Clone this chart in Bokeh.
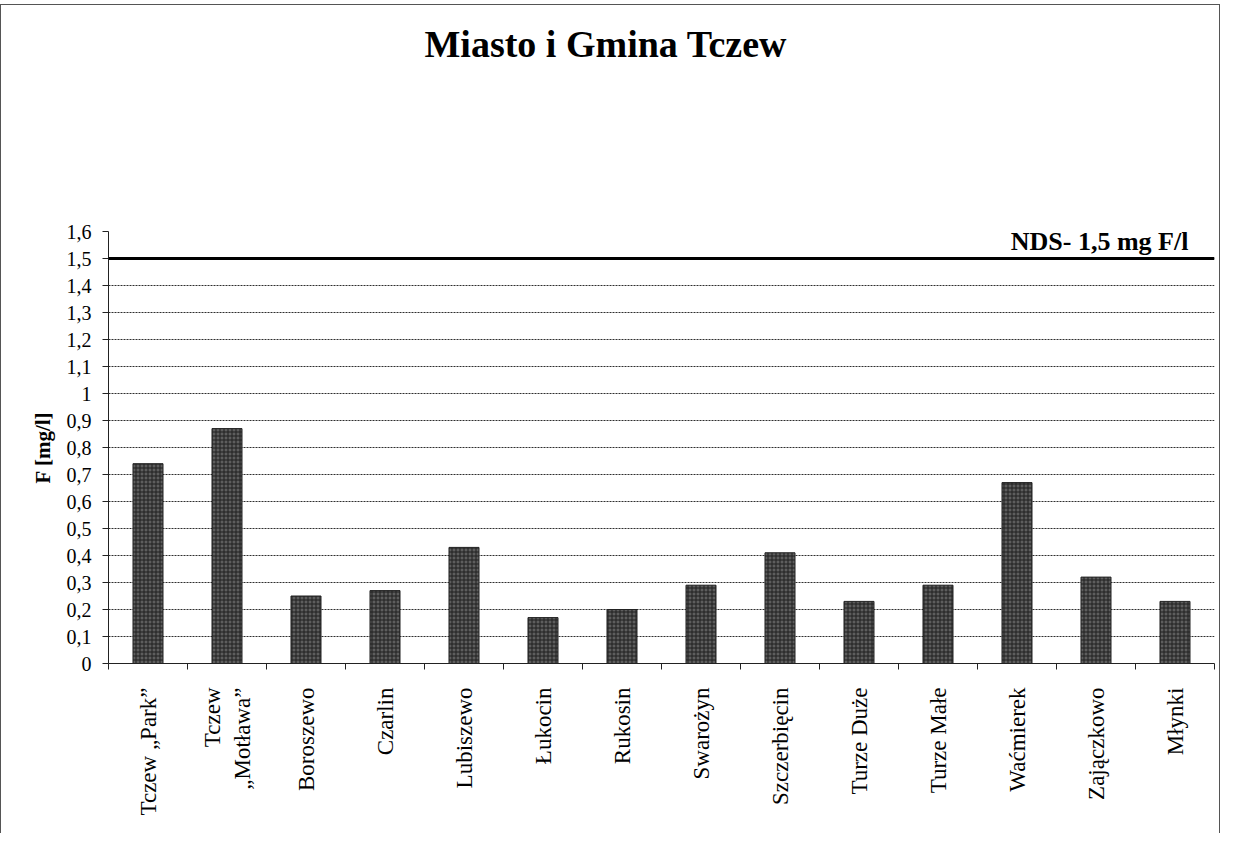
import math
from bokeh.plotting import figure
from bokeh.models import FixedTicker, Span, Label, Range1d, Title
from bokeh.embed import file_html
from bokeh.resources import INLINE

# ---- data ----
categories = ["Tczew \u201ePark\u201d", "Tczew\n\u201eMotława\u201d", "Boroszewo", "Czarlin",
              "Lubiszewo", "Łukocin", "Rukosin", "Swarożyn", "Szczerbięcin",
              "Turze Duże", "Turze Małe", "Waćmierek", "Zajączkowo", "Młynki"]
values = [0.74, 0.87, 0.25, 0.27, 0.43, 0.17, 0.20, 0.29, 0.41, 0.23, 0.29, 0.67, 0.32, 0.23]
y_ticks = [0, 0.1, 0.2, 0.3, 0.4, 0.5, 0.6, 0.7, 0.8, 0.9, 1.0, 1.1, 1.2, 1.3, 1.4, 1.5, 1.6]
y_tick_labels = ["0", "0,1", "0,2", "0,3", "0,4", "0,5", "0,6", "0,7", "0,8", "0,9", "1",
                 "1,1", "1,2", "1,3", "1,4", "1,5", "1,6"]
nds_value = 1.5
nds_text = "NDS- 1,5 mg F/l"
title_text = "Miasto i Gmina Tczew"
y_label = "F [mg/l]"

FONT = "Liberation Serif"
n = len(categories)
centers = [i + 0.5 for i in range(n)]
bounds = [i for i in range(n + 1)]
y_max = y_ticks[-1]

p = figure(width=1220, height=829, output_backend="svg", toolbar_location=None,
           x_range=Range1d(0, n), y_range=Range1d(0, y_max),
           min_border_left=107, min_border_right=7, min_border_top=226, min_border_bottom=171)
p.styles = {"margin-top": "4px", "border-left": "1px solid #555", "border-top": "1px solid #555",
            "border-right": "1px solid #555"}
p.outline_line_color = None
p.background_fill_color = "white"
p.border_fill_color = "white"

# spacer between the title and the plot area
p.add_layout(Title(text=" ", text_font_size="10px", standoff=142), "above")

# title
p.title.text = title_text
p.title.text_font = FONT
p.title.text_font_size = "38px"
p.title.text_font_style = "bold"
p.title.text_color = "black"
p.title.align = "left"
p.title.offset = 316
p.title.standoff = 24

# bars
p.vbar(x=centers, top=values, bottom=0, width=0.38, fill_color="#5e5e5e", line_color="#222222",
       line_width=1, hatch_pattern="cross", hatch_color="#1e1e1e", hatch_scale=4, hatch_weight=1)

# y axis
p.yaxis.ticker = FixedTicker(ticks=y_ticks)
p.yaxis.major_label_overrides = {t: l for t, l in zip(y_ticks, y_tick_labels)}
p.yaxis.major_label_text_font = FONT
p.yaxis.major_label_text_font_size = "20px"
p.yaxis.major_label_text_color = "black"
p.yaxis.major_tick_out = 6
p.yaxis.major_tick_in = 0
p.yaxis.minor_tick_out = 0
p.yaxis.minor_tick_in = 0
p.yaxis.major_label_standoff = 11
p.yaxis.axis_line_color = "#222222"
p.yaxis.major_tick_line_color = "#222222"
p.yaxis.axis_label = y_label
p.yaxis.axis_label_text_font = FONT
p.yaxis.axis_label_text_font_size = "21px"
p.yaxis.axis_label_text_font_style = "bold"
p.yaxis.axis_label_text_color = "black"
p.yaxis.axis_label_standoff = 9

# x axis
p.xaxis.ticker = FixedTicker(ticks=centers, minor_ticks=bounds)
p.xaxis.major_label_overrides = {c: l for c, l in zip(centers, categories)}
p.xaxis.major_label_orientation = math.pi / 2
p.xaxis.major_label_text_font = FONT
p.xaxis.major_label_text_font_size = "23px"
p.xaxis.major_label_text_color = "black"
p.xaxis.major_tick_out = 0
p.xaxis.major_tick_in = 0
p.xaxis.minor_tick_out = 6
p.xaxis.minor_tick_in = 0
p.xaxis.minor_tick_line_color = "#222222"
p.xaxis.axis_line_color = "#222222"
p.xaxis.major_label_standoff = 18

# grid
p.xgrid.visible = False
p.ygrid.ticker = FixedTicker(ticks=y_ticks[1:])
p.ygrid.grid_line_color = "#2e2e2e"
p.ygrid.grid_line_width = 1
p.ygrid.grid_line_dash = "2 1"

# NDS line
p.add_layout(Span(location=nds_value, dimension="width", line_color="black", line_width=3))
p.add_layout(Label(x=13.67, y=nds_value, text=nds_text, text_align="right", text_baseline="bottom",
                   y_offset=3, text_font=FONT, text_font_size="26px", text_font_style="bold",
                   text_color="black"))

open("out.html", "w").write(file_html(p, INLINE))
